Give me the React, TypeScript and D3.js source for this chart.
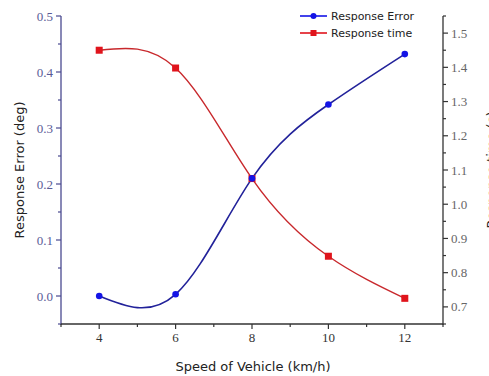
import React from "react";
import * as d3 from "d3";

const speeds = [4, 6, 8, 10, 12];
const responseError = [0.0, 0.003, 0.21, 0.342, 0.432];
const responseTime = [1.45, 1.398, 1.075, 0.848, 0.725];
const xTicks = [4, 6, 8, 10, 12];
const leftTicks = [0.0, 0.1, 0.2, 0.3, 0.4, 0.5];
const rightTicks = [0.7, 0.8, 0.9, 1.0, 1.1, 1.2, 1.3, 1.4, 1.5];

const W = 489, H = 376;
const L = 61, R = 443, T = 16, B = 324;

export default function App() {
  const x = d3.scaleLinear().domain([3, 13]).range([L, R]);
  const yL = d3.scaleLinear().domain([-0.05, 0.5]).range([B, T]);
  const yR = d3.scaleLinear().domain([0.65, 1.55]).range([B, T]);
  const errPts: [number, number][] = speeds.map((s, i) => [x(s), yL(responseError[i])]);
  const timePts: [number, number][] = speeds.map((s, i) => [x(s), yR(responseTime[i])]);
  const line = d3.line().curve(d3.curveNatural);
  const leftMinor = d3.range(-0.05, 0.5001, 0.05);
  const rightMinor = d3.range(0.65, 1.5501, 0.05);
  const xMinor = d3.range(3, 13.001, 1);
  const serif = "'Times New Roman', 'Liberation Serif', serif";
  const sans = "DejaVu Sans";
  const blueAxis = "#4a4a90";
  return (
    <svg width={W} height={H} style={{ position: "absolute", left: 0, top: 0, background: "#fff" }}>
      {/* left axis */}
      <line x1={L} x2={L} y1={T} y2={B + 1} stroke={blueAxis} strokeWidth={1.3} />
      {leftMinor.map((v, i) => (
        <line key={"lm" + i} x1={L} x2={L - (i % 2 === 1 ? 5 : 3)} y1={yL(v)} y2={yL(v)} stroke={blueAxis} strokeWidth={1.2} />
      ))}
      {leftTicks.map((v) => (
        <text key={"lt" + v} x={L - 8} y={yL(v)} dy="0.35em" textAnchor="end" fontFamily={serif} fontSize={13} fill="#5a5a96">
          {v.toFixed(1)}
        </text>
      ))}
      {/* right axis */}
      <line x1={R} x2={R} y1={T} y2={B + 1} stroke="#333" strokeWidth={1.3} />
      {rightMinor.map((v, i) => (
        <line key={"rm" + i} x1={R} x2={R + (i % 2 === 1 ? 5 : 3)} y1={yR(v)} y2={yR(v)} stroke="#333" strokeWidth={1.2} />
      ))}
      {rightTicks.map((v) => (
        <text key={"rt" + v} x={R + 8} y={yR(v)} dy="0.35em" textAnchor="start" fontFamily={serif} fontSize={13} fill="#666">
          {v.toFixed(1)}
        </text>
      ))}
      {/* bottom axis */}
      <line x1={L} x2={R} y1={B} y2={B} stroke="#333" strokeWidth={1.3} />
      {xMinor.map((v) => (
        <line key={"xm" + v} x1={x(v)} x2={x(v)} y1={B} y2={B + (v % 2 === 0 ? 5 : 3)} stroke="#333" strokeWidth={1.2} />
      ))}
      {xTicks.map((v) => (
        <text key={"xt" + v} x={x(v)} y={B + 18} textAnchor="middle" fontFamily={serif} fontSize={13} fill="#333">
          {v}
        </text>
      ))}
      {/* titles */}
      <text x={253} y={371} textAnchor="middle" fontFamily={sans} fontSize={13} fill="#222">
        Speed of Vehicle (km/h)
      </text>
      <text transform={`translate(24,${(T + B) / 2}) rotate(-90)`} textAnchor="middle" fontFamily={sans} fontSize={13} fill="#222">
        Response Error (deg)
      </text>
      <text transform={`translate(496,${(T + B) / 2}) rotate(-90)`} textAnchor="middle" fontFamily={sans} fontSize={13} fill="#222">
        Response time (s)
      </text>
      {/* series */}
      <path d={line(timePts) || ""} fill="none" stroke="#c8282c" strokeWidth={1.4} />
      <path d={line(errPts) || ""} fill="none" stroke="#22229a" strokeWidth={1.6} />
      {timePts.map((p, i) => (
        <rect key={"tp" + i} x={p[0] - 3.5} y={p[1] - 3.5} width={7} height={7} fill="#e0141c" />
      ))}
      {errPts.map((p, i) => (
        <circle key={"ep" + i} cx={p[0]} cy={p[1]} r={3.3} fill="#1414e6" />
      ))}
      {/* legend */}
      <line x1={300} x2={327} y1={16} y2={16} stroke="#1414e6" strokeWidth={1.6} />
      <circle cx={313.5} cy={16} r={3} fill="#1414e6" />
      <text x={331} y={16} dy="0.35em" fontFamily={sans} fontSize={11} fill="#222">Response Error</text>
      <line x1={300} x2={327} y1={33} y2={33} stroke="#e0141c" strokeWidth={1.6} />
      <rect x={310.5} y={30} width={6} height={6} fill="#e0141c" />
      <text x={331} y={33} dy="0.35em" fontFamily={sans} fontSize={11} fill="#222">Response time</text>
    </svg>
  );
}
